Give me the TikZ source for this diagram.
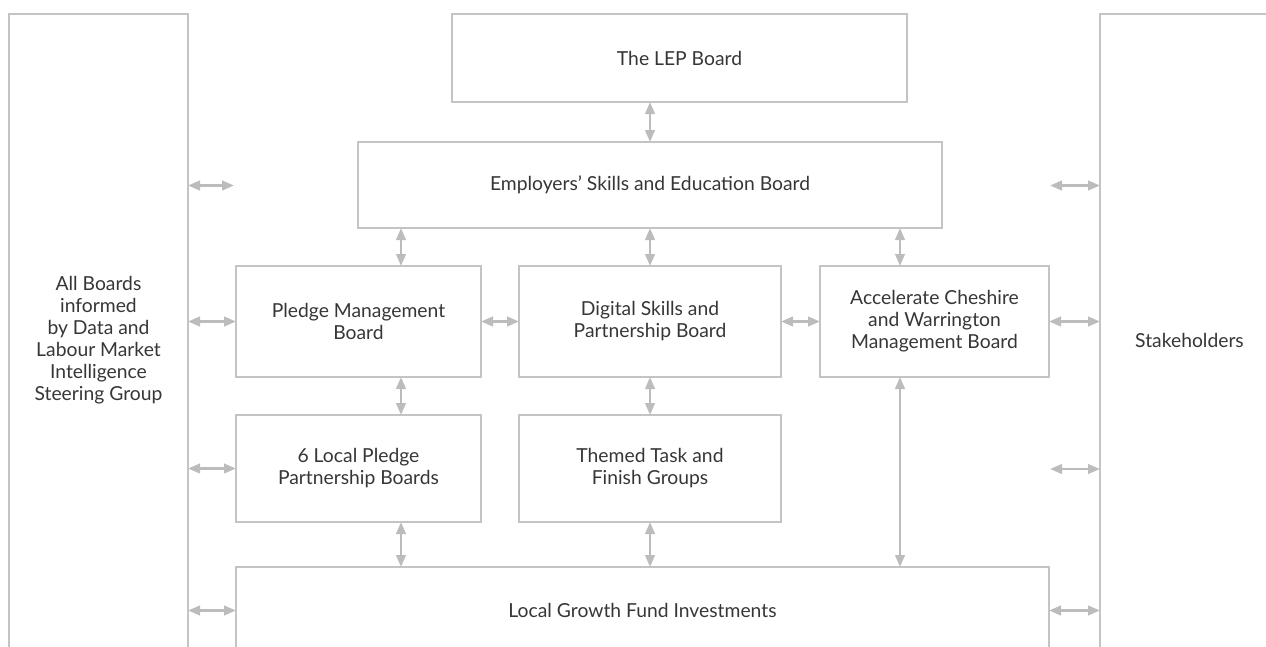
\documentclass[tikz,border=0pt]{standalone}
\usepackage{fontspec}
\setmainfont{Lato}
\usetikzlibrary{arrows.meta}
\definecolor{boxline}{HTML}{C4C4C4}
\definecolor{arrcol}{HTML}{BCBCBC}
\definecolor{txtcol}{HTML}{363636}
\tikzset{
  box/.style={draw=boxline, line width=1.6pt, rectangle, inner sep=0pt, outer sep=0pt,
    align=center, text=txtcol, font=\fontsize{19.3}{22}\selectfont},
  arr/.style={draw=arrcol, line width=2.6pt,
    {Triangle[length=12pt,width=9.5pt]}-{Triangle[length=12pt,width=9.5pt]}}
}
\begin{document}
\begin{tikzpicture}[x=1pt,y=-1pt]
\path[use as bounding box] (0,0) rectangle (1266,646);
\clip (0,0) rectangle (1266,646);
% open boxes
\node[box, minimum width=179, minimum height=652] (lb) at (98.5,340) {All Boards\\informed\\by Data and\\Labour Market\\Intelligence\\Steering Group};
\node[box, minimum width=179, minimum height=652] (rb) at (1189.5,340) {Stakeholders};
\node[box, minimum width=813, minimum height=86] (lg) at (642.5,610) {Local Growth Fund Investments};
% boxes
\node[box, minimum width=455, minimum height=88] (lep) at (679.5,58) {The LEP Board};
\node[box, minimum width=584, minimum height=86] (es) at (650,185) {Employers’ Skills and Education Board};
\node[box, minimum width=245, minimum height=111] (pm) at (358.5,321.5) {Pledge Management\\Board};
\node[box, minimum width=262, minimum height=111] (ds) at (650,321.5) {Digital Skills and\\Partnership Board};
\node[box, minimum width=229, minimum height=111] (ac) at (934.5,321.5) {Accelerate Cheshire\\and Warrington\\Management Board};
\node[box, minimum width=245, minimum height=107] (lp) at (358.5,468.5) {6 Local Pledge\\Partnership Boards};
\node[box, minimum width=262, minimum height=107] (tt) at (650,468.5) {Themed Task and\\Finish Groups};
% column references
\coordinate (xa) at (401,0);
\coordinate (xb) at (650,0);
\coordinate (xc) at (900,0);
% free ends
\coordinate (fl1) at (234,185.5);
\coordinate (fr1) at (1050,185.5);
\coordinate (fr2) at (1050,469);
% vertical arrows
\draw[arr] (lep.south -| xb) -- (es.north -| xb);
\draw[arr] (es.south -| xa) -- (pm.north -| xa);
\draw[arr] (es.south -| xb) -- (ds.north -| xb);
\draw[arr] (es.south -| xc) -- (ac.north -| xc);
\draw[arr] (pm.south -| xa) -- (lp.north -| xa);
\draw[arr] (ds.south -| xb) -- (tt.north -| xb);
\draw[arr] (lp.south -| xa) -- (lg.north -| xa);
\draw[arr] (tt.south -| xb) -- (lg.north -| xb);
\draw[arr] (ac.south -| xc) -- (lg.north -| xc);
% horizontal arrows
\draw[arr] (lb.east |- fl1) -- (fl1);
\draw[arr] (lb.east |- pm.west) -- (pm.west);
\draw[arr] (lb.east |- lp.west) -- (lp.west);
\draw[arr] (lb.east |- 0,610.5) -- (lg.west |- 0,610.5);
\draw[arr] (pm.east) -- (ds.west);
\draw[arr] (ds.east) -- (ac.west);
\draw[arr] (ac.east) -- (rb.west |- ac.east);
\draw[arr] (fr1) -- (rb.west |- fr1);
\draw[arr] (fr2) -- (rb.west |- fr2);
\draw[arr] (lg.east |- 0,610.5) -- (rb.west |- 0,610.5);
\end{tikzpicture}
\end{document}
